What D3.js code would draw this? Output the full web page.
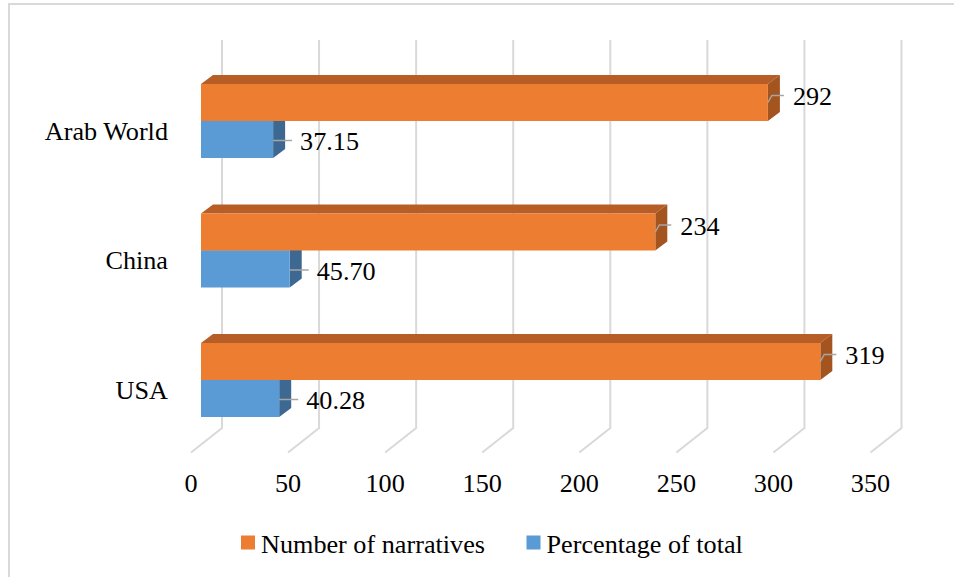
<!DOCTYPE html>
<html>
<head>
<meta charset="utf-8">
<script src="https://cdn.jsdelivr.net/npm/d3@7/dist/d3.min.js"></script>
<style>
  html, body { margin: 0; padding: 0; background: #fff; }
  svg { display: block; }
</style>
</head>
<body>
<svg id="chart" width="954" height="577"></svg>
<script>
// ---- data ----
const categories = ["Arab World", "China", "USA"];
const narratives = [292, 234, 319];
const percentages = [37.15, 45.70, 40.28];
const tickValues = [0, 50, 100, 150, 200, 250, 300, 350];
const seriesNames = ["Number of narratives", "Percentage of total"];

// ---- layout ----
const W = 954, H = 577;
const svg = d3.select("#chart");
const FONT = '"Liberation Serif"';
const fs = 26.2;
const colors = {
  orange: { front: "#ED7D31", top: "#B65E26", side: "#A3541F" },
  blue:   { front: "#5B9BD5", top: "#41709A", side: "#3C6891" }
};

// frame
svg.append("rect").attr("x", 9).attr("y", 4).attr("width", W + 20).attr("height", H + 20)
  .attr("fill", "none").attr("stroke", "#d9d9d9").attr("stroke-width", 2);

const x = d3.scaleLinear().domain([0, 350]).range([0, 679.5]);
const frontX0 = 191, backX0 = 222, barX0 = 201;
const backTop = 40, backBottom = 428, floorFront = 452.5;
const bdx = 12, bdy = 9; // bar depth offset

// gridlines on back wall + floor
const grid = svg.append("g").attr("stroke", "#d9d9d9").attr("stroke-width", 2).attr("fill", "none");
tickValues.forEach(v => {
  grid.append("path").attr("d", d3.line()([
    [backX0 + x(v), backTop], [backX0 + x(v), backBottom], [frontX0 + x(v), floorFront]
  ]));
});

function txt(sel) {
  return sel.style("font-family", FONT).attr("font-size", fs).attr("fill", "#000");
}

// tick labels
txt(svg.append("g").selectAll("text").data(tickValues).join("text")
  .attr("x", v => frontX0 + x(v)).attr("y", 492)
  .attr("text-anchor", "middle"))
  .text(v => v);

// category scale
const yC = d3.scalePoint().domain(categories).range([121, 380]);
const yS = d3.scaleBand().domain(seriesNames).range([-37, 37]);

// category labels
txt(svg.append("g").selectAll("text").data(categories).join("text")
  .attr("x", 168).attr("y", c => yC(c) + 10)
  .attr("text-anchor", "end").attr("dominant-baseline", "central"))
  .text(c => c);

function drawBar(g, value, yTop, h, col) {
  const xe = barX0 + x(value);
  const yb = yTop + h;
  g.append("polygon").attr("points", [[barX0, yTop], [barX0 + bdx, yTop - bdy], [xe + bdx, yTop - bdy], [xe, yTop]].join(" "))
    .attr("fill", col.top);
  g.append("polygon").attr("points", [[xe, yTop], [xe + bdx, yTop - bdy], [xe + bdx, yb - bdy], [xe, yb]].join(" "))
    .attr("fill", col.side);
  g.append("rect").attr("x", barX0).attr("y", yTop).attr("width", x(value)).attr("height", h)
    .attr("fill", col.front);
}

const bars = svg.append("g");
const labels = svg.append("g");
categories.forEach((c, i) => {
  const gc = bars.append("g");
  const hB = yS.bandwidth();
  const yBlue = yC(c) + yS(seriesNames[1]);
  drawBar(gc, percentages[i], yBlue, hB, colors.blue);
  const yOr = yC(c) + yS(seriesNames[0]);
  drawBar(gc, narratives[i], yOr, hB, colors.orange);

  const xeO = barX0 + x(narratives[i]);
  const cyO = yOr + hB / 2;
  labels.append("path").attr("d", d3.line()([[xeO, cyO], [xeO + 4, cyO - 7], [xeO + 16, cyO - 7]]))
    .attr("fill", "none").attr("stroke", "#a6a6a6").attr("stroke-width", 1.5);
  txt(labels.append("text").attr("x", xeO + 25).attr("y", cyO - 6)
    .attr("dominant-baseline", "central"))
    .text(d3.format("d")(narratives[i]));

  const xeB = barX0 + x(percentages[i]);
  const cyB = yBlue + hB / 2;
  labels.append("path").attr("d", d3.line()([[xeB, cyB + 1], [xeB + 19, cyB + 1]]))
    .attr("fill", "none").attr("stroke", "#a6a6a6").attr("stroke-width", 1.5);
  txt(labels.append("text").attr("x", xeB + 27).attr("y", cyB + 2)
    .attr("dominant-baseline", "central"))
    .text(d3.format(".2f")(percentages[i]));
});

// legend
const legend = svg.append("g");
const legItems = [
  { name: seriesNames[0], color: colors.orange.front, x: 241 },
  { name: seriesNames[1], color: colors.blue.front, x: 526.5 }
];
legItems.forEach(d => {
  legend.append("rect").attr("x", d.x).attr("y", 535.5).attr("width", 14).attr("height", 14).attr("fill", d.color);
  txt(legend.append("text").attr("x", d.x + 20).attr("y", 552.5)).text(d.name);
});
</script>
</body>
</html>
